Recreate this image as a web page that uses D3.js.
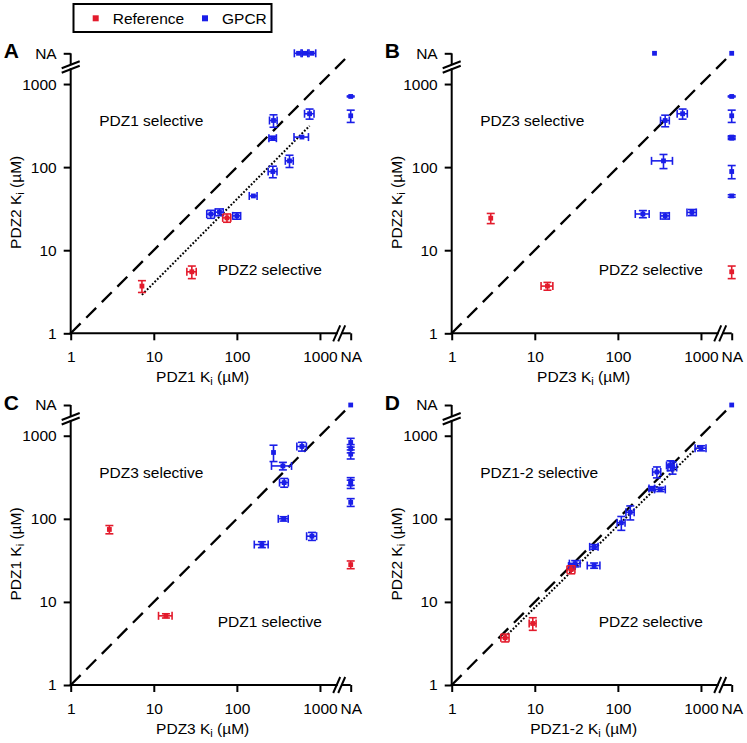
<!DOCTYPE html>
<html><head><meta charset="utf-8">
<script src="https://cdn.jsdelivr.net/npm/d3@7"></script>
<style>
body{margin:0;background:#fff}
text{font-family:"Liberation Sans",Arial,Helvetica,sans-serif}
</style>
</head><body>
<svg id="chart" width="747" height="743"></svg>
<script>
// ---------- data ----------
const NA = "NA";
const NA_VALUE = 2344;                 // where "NA" sits on the log axes
const tickValues = [1, 10, 100, 1000, NA];
const tickLabels = ["1", "10", "100", "1000", "NA"];
const seriesNames = ["Reference", "GPCR"];
const seriesColors = ["#e31b2c", "#1a1ee8"];
const panelLetters = ["A", "B", "C", "D"];
const xTitles = ["PDZ1", "PDZ3", "PDZ3", "PDZ1-2"];
const yTitles = ["PDZ2", "PDZ2", "PDZ1", "PDZ2"];
const upperLabels = ["PDZ1 selective", "PDZ3 selective", "PDZ3 selective", "PDZ1-2 selective"];
const lowerLabels = ["PDZ2 selective", "PDZ2 selective", "PDZ1 selective", "PDZ2 selective"];
const diagonal = [1, 2150];

// each point: [x Ki, y Ki, x error, y error]   (µM)
const refA = [[7.2, 3.7, 0, 0.6], [28.7, 5.5, 3.7, 0.95], [76, 24.5, 8.5, 2.8]];
const gpcrA = [[48.6, 27.2, 5.2, 3], [61.7, 28.7, 6.8, 2.7], [100, 25.9, 11, 2.3], [158, 45, 17, 0],
  [271, 88.5, 33, 14], [430, 119, 47, 20], [271, 223, 28, 12], [607, 230, 120, 0],
  [276, 364, 29, 62], [750, 439, 98, 61], [NA, 709, 0, 10], [NA, 415, 0, 70],
  [552, NA, 60, 0], [665, NA, 73, 0], [801, NA, 88, 0]];
const fitA = [[7.2, 2.9], [750, 314]];

const refB = [[2.95, 24.3, 0, 3.4], [14.2, 3.7, 2.3, 0.4], [NA, 5.5, 0, 0.95]];
const gpcrB = [[276, NA, 0, 0], [NA, NA, 0, 0], [NA, 709, 0, 10], [NA, 415, 0, 70],
  [NA, 223, 0, 8], [NA, 230, 0, 8], [NA, 88.5, 0, 16], [NA, 45, 0, 1.5],
  [371, 364, 45, 58], [601, 439, 84, 61], [354, 119, 100, 23],
  [200, 27.3, 38, 2.7], [371, 25.9, 45, 2.2], [779, 28.5, 100, 2.4]];

const refC = [[2.92, 74.5, 0, 8.5], [14, 6.8, 2.6, 0.4], [NA, 28.1, 0, 3]];
const gpcrC = [[NA, NA, 0, 0], [NA, 830, 0, 100], [NA, 702, 0, 80], [NA, 600, 0, 75],
  [NA, 283, 0, 30], [NA, 262, 0, 30], [NA, 158, 0, 17],
  [276, 629, 0, 140], [358, 433, 97, 45], [371, 273, 45, 33], [607, 743, 80, 90],
  [365, 100, 50, 6], [200, 49, 38, 4], [801, 61.8, 110, 6.8]];

const refD = [[4.4, 3.7, 0.5, 0.4], [9.46, 5.5, 0.9, 0.95], [27.4, 24.5, 3, 2.7]];
const gpcrD = [[NA, NA, 0, 0], [1000, 708, 150, 50], [430, 439, 45, 60], [455, 415, 55, 70],
  [295, 366, 33, 55], [257, 231, 20, 13], [324, 226, 48, 13], [141, 120, 16, 23],
  [110, 89.7, 12, 17], [51.8, 46, 6, 3], [51.8, 27.4, 9, 2], [30.6, 28.9, 4.5, 2.5],
  [28, 27, 2.5, 2]];
const fitD = [[4.4, 3.8], [940, 755]];

// ---------- drawing ----------
const svg = d3.select("#chart");
const FONT = "15.5px";
const panels = [
  {ref: refA, gpcr: gpcrA, fit: fitA},
  {ref: refB, gpcr: gpcrB, fit: null},
  {ref: refC, gpcr: gpcrC, fit: null},
  {ref: refD, gpcr: gpcrD, fit: fitD}
];
const val = d => d === NA ? NA_VALUE : d;

function addTitle(sel, name) {
  sel.append("tspan").text(name + " K");
  sel.append("tspan").attr("font-size", "11px").attr("dy", "3").text("i");
  sel.append("tspan").attr("dy", "-3").text(" (\u00b5M)");
}

panels.forEach((p, i) => {
  const ox = [70.7, 451.7][i % 2];
  const oy = [333.3, 685][Math.floor(i / 2)];
  const L = 280;
  const x = d3.scaleLog().domain([1, NA_VALUE]).range([ox, ox + L]);
  const y = d3.scaleLog().domain([1, NA_VALUE]).range([oy, oy - L]);
  const g = svg.append("g");

  // axes (ticks + labels)
  const xa = g.append("g").attr("transform", `translate(0,${oy})`)
    .call(d3.axisBottom(x).tickValues(tickValues.map(val))
      .tickFormat((d, j) => tickLabels[j]).tickSize(7).tickPadding(11));
  const ya = g.append("g").attr("transform", `translate(${ox},0)`)
    .call(d3.axisLeft(y).tickValues(tickValues.map(val))
      .tickFormat((d, j) => tickLabels[j]).tickSize(7).tickPadding(7));
  [xa, ya].forEach(a => {
    a.select(".domain").remove();
    a.selectAll(".tick line").attr("stroke", "#000").attr("stroke-width", 2);
    a.selectAll(".tick text").attr("fill", "#000").style("font-size", FONT)
      .style("font-family", '"Liberation Sans",Arial,sans-serif');
  });

  // axis lines with breaks
  const ax = g.append("g").attr("stroke", "#000").attr("stroke-width", 2).attr("fill", "none");
  const xb1 = ox + 266, xb2 = ox + 271;
  ax.append("line").attr("x1", ox).attr("y1", oy).attr("x2", xb1).attr("y2", oy).attr("stroke-linecap", "square");
  ax.append("line").attr("x1", xb2).attr("y1", oy).attr("x2", ox + L).attr("y2", oy);
  [xb1, xb2].forEach(c => ax.append("line").attr("x1", c - 3.5).attr("y1", oy + 8).attr("x2", c + 3.5).attr("y2", oy - 8));
  const yb1 = oy - 264, yb2 = oy - 268.5;
  ax.append("line").attr("x1", ox).attr("y1", oy).attr("x2", ox).attr("y2", yb1).attr("stroke-linecap", "square");
  ax.append("line").attr("x1", ox).attr("y1", yb2).attr("x2", ox).attr("y2", oy - L);
  [yb1, yb2].forEach(c => ax.append("line").attr("x1", ox - 9).attr("y1", c + 3.5).attr("x2", ox + 9).attr("y2", c - 3.5));

  // diagonal (dashed)
  g.append("line")
    .attr("x1", x(diagonal[0])).attr("y1", y(diagonal[0]))
    .attr("x2", x(diagonal[1])).attr("y2", y(diagonal[1]))
    .attr("stroke", "#000").attr("stroke-width", 2.3).attr("stroke-dasharray", "14,8");

  // fit (dotted)
  if (p.fit) {
    g.append("path").attr("d", d3.line().x(d => x(d[0])).y(d => y(d[1]))(p.fit))
      .attr("stroke", "#000").attr("stroke-width", 2).attr("fill", "none")
      .attr("stroke-dasharray", "1.8,1.8");
  }

  // quadrant labels
  g.append("text").attr("x", ox + 28.5).attr("y", oy - 207.5).style("font-size", FONT).text(upperLabels[i]);
  g.append("text").attr("x", ox + 147).attr("y", oy - 58.5).style("font-size", FONT).text(lowerLabels[i]);

  // points
  [p.gpcr, p.ref].forEach((data, sIdx) => {
    const col = sIdx === 0 ? seriesColors[1] : seriesColors[0];
    const pg = g.append("g").attr("stroke", col).attr("fill", col);
    data.forEach(d => {
      const cx = x(val(d[0])), cy = y(val(d[1]));
      const cap = 4;
      if (d[2] > 0 && d[0] !== NA) {
        const x1 = x(d[0] - d[2]), x2 = x(d[0] + d[2]);
        pg.append("line").attr("x1", x1).attr("x2", x2).attr("y1", cy).attr("y2", cy).attr("stroke-width", 1.6);
        [x1, x2].forEach(xx => pg.append("line").attr("x1", xx).attr("x2", xx)
          .attr("y1", cy - cap).attr("y2", cy + cap).attr("stroke-width", 1.6));
      }
      if (d[3] > 0 && d[1] !== NA) {
        const y1 = y(d[1] - d[3]), y2 = y(d[1] + d[3]);
        pg.append("line").attr("y1", y1).attr("y2", y2).attr("x1", cx).attr("x2", cx).attr("stroke-width", 1.6);
        [y1, y2].forEach(yy => pg.append("line").attr("y1", yy).attr("y2", yy)
          .attr("x1", cx - cap).attr("x2", cx + cap).attr("stroke-width", 1.6));
      }
      pg.append("rect").attr("x", cx - 2.4).attr("y", cy - 2.4).attr("width", 4.8).attr("height", 4.8).attr("stroke", "none");
    });
  });

  // axis titles
  addTitle(g.append("text").attr("text-anchor", "middle")
    .attr("x", ox + 132).attr("y", oy + 48.5).style("font-size", FONT), xTitles[i]);
  addTitle(g.append("text").attr("text-anchor", "middle")
    .attr("transform", `translate(${ox - 50},${oy - 131}) rotate(-90)`).style("font-size", FONT), yTitles[i]);

  // panel letter
  g.append("text").attr("x", ox - 67).attr("y", oy - 275).style("font-size", "21px")
    .style("font-weight", "bold").text(panelLetters[i]);
});

// legend
const lg = svg.append("g");
lg.append("rect").attr("x", 73.5).attr("y", 4).attr("width", 198).attr("height", 28)
  .attr("fill", "none").attr("stroke", "#000").attr("stroke-width", 2);
const legendX = [95.7, 205];
seriesNames.forEach((n, k) => {
  lg.append("rect").attr("x", legendX[k] - 3).attr("y", 15.3).attr("width", 6).attr("height", 6).attr("fill", seriesColors[k]);
  lg.append("text").attr("x", legendX[k] + 17).attr("y", 23.8).style("font-size", FONT).text(n);
});
</script>
</body></html>
